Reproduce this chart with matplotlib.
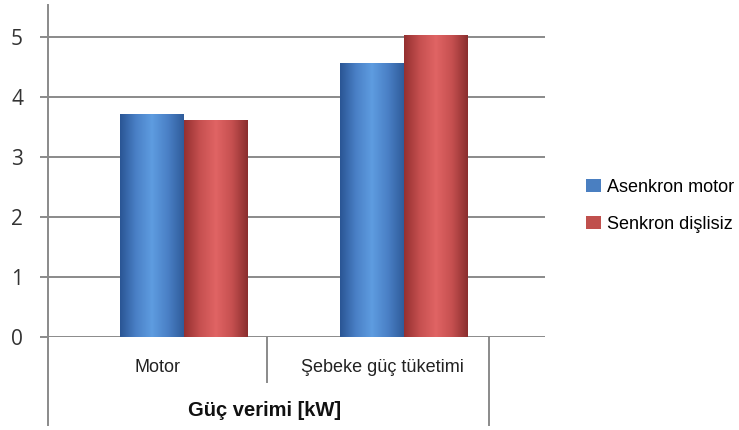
import numpy as np
import matplotlib
matplotlib.use("Agg")
import matplotlib.pyplot as plt
from matplotlib.colors import LinearSegmentedColormap
from matplotlib.lines import Line2D
from matplotlib.patches import Patch

categories = ["Motor", "Şebeke güç tüketimi"]
series_names = ["Asenkron motor", "Senkron dişlisiz"]
asenkron = [3.72, 4.57]
senkron = [3.62, 5.04]
axis_title = "Güç verimi [kW]"
yticks = [0, 1, 2, 3, 4, 5]

W, H = 739, 430
fig = plt.figure(figsize=(W / 100, H / 100), dpi=100)

def fx(px):
    return px / W

def fy(py):
    return 1 - py / H

ax = fig.add_axes([fx(48), fy(337), fx(545) - fx(48), fy(5) - fy(337)])

grid_col = "#8a8a8a"
for s in ["top", "right", "bottom"]:
    ax.spines[s].set_visible(False)
ax.spines["left"].set_color(grid_col)
ax.spines["left"].set_linewidth(1.4)

ax.set_yticks(yticks)
ax.set_yticklabels([str(v) for v in yticks], fontsize=15, family="Open Sans", color="#333333")
ax.tick_params(axis="y", length=6, width=1.4, color=grid_col, pad=12)
ax.set_xticks([])
for v in yticks:
    ax.axhline(v, color=grid_col, lw=1.4, zorder=0)

x = np.arange(len(categories))
bw = 0.29
b1 = ax.bar(x - bw / 2, asenkron, bw, color="#4a7fc1", zorder=2, label=series_names[0])
b2 = ax.bar(x + bw / 2, senkron, bw, color="#c0504d", zorder=2, label=series_names[1])

# cylinder-style shading across each bar
blue_cm = LinearSegmentedColormap.from_list("b", ["#2a5594", "#4a80c6", "#5e9ce0", "#4a80c6", "#2f5c9a"])
red_cm = LinearSegmentedColormap.from_list("r", ["#943030", "#c65050", "#e06464", "#c65050", "#8a2e2e"])
grad = np.linspace(0, 1, 256).reshape(1, -1)
for bars, cm in [(b1, blue_cm), (b2, red_cm)]:
    for p in bars:
        x0, y0 = p.get_x(), p.get_y()
        im = ax.imshow(grad, cmap=cm, aspect="auto", zorder=3,
                       extent=[x0, x0 + p.get_width(), y0, y0 + p.get_height()])
        im.set_clip_path(p)
ax.set_xlim(-0.618, 1.641)
ax.set_ylim(0, 5.533)

# category axis decorations below the plot
fig.add_artist(Line2D([fx(48), fx(48)], [fy(337), fy(425)], color=grid_col, lw=1.4))
fig.add_artist(Line2D([fx(267), fx(267)], [fy(337), fy(382)], color=grid_col, lw=1.4))
fig.add_artist(Line2D([fx(489), fx(489)], [fy(337), fy(425)], color=grid_col, lw=1.4))

label_x = [157, 382]
for lx, c in zip(label_x, categories):
    fig.text(fx(lx), fy(368), c, ha="center", va="center", fontsize=13,
             family="Liberation Sans", color="#222222")
fig.text(fx(265), fy(410), axis_title, ha="center", va="center", fontsize=14.5,
         family="Liberation Sans", weight="bold", color="#111111")

handles = [Patch(facecolor="#4a7fc1"), Patch(facecolor="#c0504d")]
fig.legend(handles, series_names, loc="center left", bbox_to_anchor=(fx(570), fy(206)),
           frameon=False, prop={"family": "Liberation Sans", "size": 13},
           handlelength=0.8, handleheight=0.72, handletextpad=0.35, labelspacing=1.1)

fig.savefig("out.png", dpi=100, facecolor="white")
